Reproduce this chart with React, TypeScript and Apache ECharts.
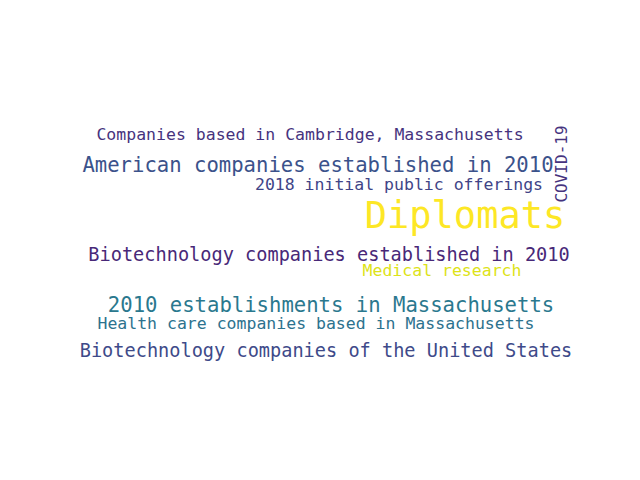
import { useEffect, useRef } from "react";
import * as echarts from "echarts";

const words = [
  "Companies based in Cambridge, Massachusetts",
  "American companies established in 2010",
  "2018 initial public offerings",
  "COVID-19",
  "Diplomats",
  "Biotechnology companies established in 2010",
  "Medical research",
  "2010 establishments in Massachusetts",
  "Health care companies based in Massachusetts",
  "Biotechnology companies of the United States",
];
const weights = [16.5, 20.6, 16.5, 16, 37, 18.6, 16.5, 20.6, 16.5, 18.6];
const colors = [
  "#46337e", "#3b528b", "#414487", "#46337e", "#fde725",
  "#482878", "#dde318", "#2a788e", "#2c728e", "#3e4a89",
];
// word cloud layout: centre of each word in page pixels
const layoutX = [310, 318, 399, 561, 465, 329, 442, 331, 316, 326];
const layoutY = [134, 165, 184, 164, 215, 254, 270, 305, 323, 350];
const rotations = [0, 0, 0, 90, 0, 0, 0, 0, 0, 0];

export default function App() {
  const chartRef = useRef<HTMLDivElement>(null);

  useEffect(() => {
    if (!chartRef.current) return;
    const chart = echarts.init(chartRef.current, undefined, { renderer: "svg" });
    chart.setOption({
      animation: false,
      backgroundColor: "#fff",
      grid: { left: 0, right: 0, top: 0, bottom: 0 },
      xAxis: { type: "value", min: 0, max: 640, show: false },
      yAxis: { type: "value", min: 0, max: 480, inverse: true, show: false },
      series: [
        {
          type: "scatter",
          symbolSize: 0,
          itemStyle: { opacity: 1 },
          data: words.map((w, i) => ({
            name: w,
            value: [layoutX[i], layoutY[i]],
            label: {
              fontSize: weights[i],
              color: colors[i],
              rotate: rotations[i],
            },
          })),
          label: {
            show: true,
            position: "inside",
            formatter: (p: any) => p.name,
            fontFamily: "DejaVu Sans Mono",
            opacity: 1,
          },
        },
      ],
    });
    return () => chart.dispose();
  }, []);

  return (
    <div
      ref={chartRef}
      style={{ position: "fixed", left: 0, top: 0, width: 640, height: 480 }}
    />
  );
}
